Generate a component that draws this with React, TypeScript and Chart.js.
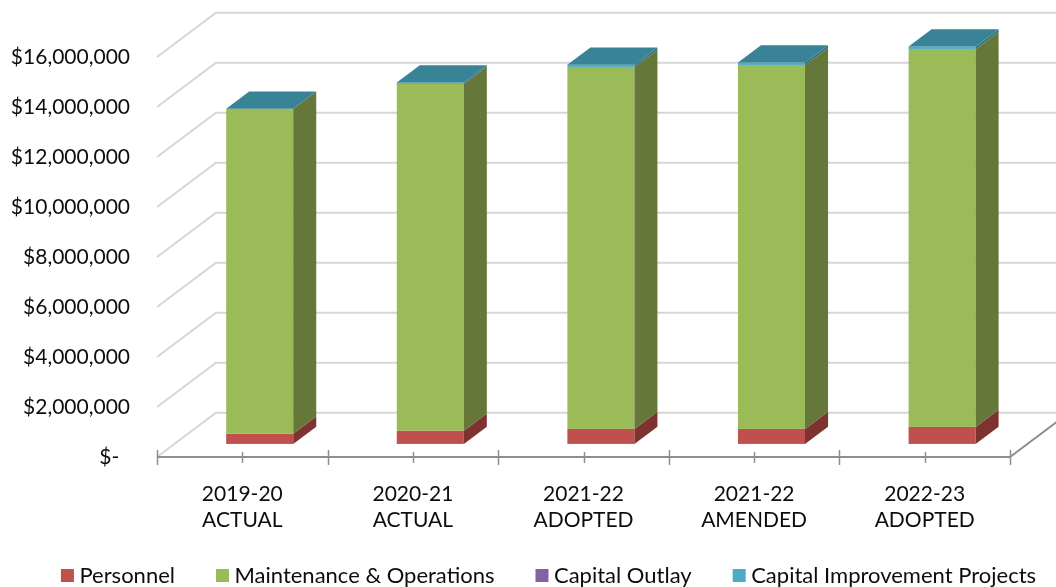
import { useEffect, useRef } from 'react';
import { Chart, registerables } from 'chart.js';

Chart.register(...registerables);

// Fiscal years shown along the category axis (two-line labels)
const fiscalYears: string[][] = [
  ['2019-20', 'ACTUAL'],
  ['2020-21', 'ACTUAL'],
  ['2021-22', 'ADOPTED'],
  ['2021-22', 'AMENDED'],
  ['2022-23', 'ADOPTED'],
];

// Expenditure by category, in dollars
const personnel = [410000, 530000, 600000, 600000, 680000];
const maintenanceOperations = [13000000, 13870000, 14480000, 14560000, 15120000];
const capitalOutlay = [0, 0, 0, 0, 0];
const capitalImprovementProjects = [0, 60000, 90000, 100000, 100000];

// Value axis
const axisMax = 16000000;
const axisStep = 2000000;

const seriesNames = ['Personnel', 'Maintenance & Operations', 'Capital Outlay', 'Capital Improvement Projects'];
const frontColors = ['#C0504D', '#9BBB59', '#8064A2', '#4BACC6'];
const sideColors = ['#7F3331', '#65783A', '#55426C', '#2F7385'];
const topColors = ['#A04340', '#86A24C', '#6C5589', '#388396'];

const FONT = 'Lato, "Open Sans", sans-serif';

// Oblique projection of the chart depth: (dx, dy) from front plane to back wall
const DEPTH_X = 59;
const DEPTH_Y = -44.3;
const BAR_FRONT = 0.295;
const BAR_BACK = 0.685;

const boxPlugin = {
  id: 'boxes3d',
  beforeDatasetsDraw(chart: any) {
    const { ctx, chartArea, scales } = chart;
    const xs = scales.x;
    const ys = scales.y;
    const left = chartArea.left;
    const right = chartArea.right;

    ctx.save();
    // back wall grid with its left-side diagonals
    ctx.strokeStyle = '#D6D6D6';
    ctx.lineWidth = 2;
    for (let v = 0; v <= axisMax; v += axisStep) {
      const yf = ys.getPixelForValue(v);
      ctx.beginPath();
      ctx.moveTo(left, yf);
      ctx.lineTo(left + DEPTH_X, yf + DEPTH_Y);
      ctx.lineTo(right + DEPTH_X, yf + DEPTH_Y);
      ctx.stroke();
    }

    // floor front edge (category axis) and right floor edge
    const y0 = ys.getPixelForValue(0);
    ctx.strokeStyle = '#8E8E8E';
    ctx.lineWidth = 2;
    ctx.beginPath();
    ctx.moveTo(left, y0);
    ctx.lineTo(right, y0);
    ctx.lineTo(right + DEPTH_X, y0 + DEPTH_Y);
    ctx.stroke();

    // tick marks: long at category boundaries, short at category centres
    ctx.lineWidth = 1.5;
    const n = chart.data.labels.length;
    const catW = (right - left) / n;
    for (let k = 0; k <= n; k++) {
      const tx = Math.round(left + k * catW) + 0.5;
      ctx.beginPath();
      ctx.moveTo(tx, y0 - 7);
      ctx.lineTo(tx, y0 + 8);
      ctx.stroke();
    }
    for (let k = 0; k < n; k++) {
      const tx = Math.round(xs.getPixelForValue(k)) + 0.5;
      ctx.beginPath();
      ctx.moveTo(tx, y0 - 5);
      ctx.lineTo(tx, y0 + 6);
      ctx.stroke();
    }

    // stacked boxes
    const fx = DEPTH_X * BAR_FRONT;
    const fy = DEPTH_Y * BAR_FRONT;
    const sdx = DEPTH_X * (BAR_BACK - BAR_FRONT);
    const sdy = DEPTH_Y * (BAR_BACK - BAR_FRONT);
    const dsCount = chart.data.datasets.length;
    for (let j = 0; j < n; j++) {
      let topY = 0;
      let xl = 0;
      let xr = 0;
      for (let i = 0; i < dsCount; i++) {
        const el = chart.getDatasetMeta(i).data[j];
        const p = el.getProps(['x', 'y', 'base', 'width'], true);
        xl = p.x - p.width / 2 + fx;
        xr = p.x + p.width / 2 + fx;
        const yt = Math.min(p.y, p.base) + fy;
        const yb = Math.max(p.y, p.base) + fy;
        topY = yt;
        if (yb - yt < 0.01) continue;
        ctx.fillStyle = frontColors[i];
        ctx.fillRect(xl, yt, xr - xl, yb - yt);
        ctx.fillStyle = sideColors[i];
        ctx.beginPath();
        ctx.moveTo(xr, yt);
        ctx.lineTo(xr + sdx, yt + sdy);
        ctx.lineTo(xr + sdx, yb + sdy);
        ctx.lineTo(xr, yb);
        ctx.closePath();
        ctx.fill();
      }
      // lid of the stack takes the colour of the last series
      ctx.fillStyle = topColors[dsCount - 1];
      ctx.beginPath();
      ctx.moveTo(xl, topY);
      ctx.lineTo(xr, topY);
      ctx.lineTo(xr + sdx, topY + sdy);
      ctx.lineTo(xl + sdx, topY + sdy);
      ctx.closePath();
      ctx.fill();
    }
    ctx.restore();
    return false;
  },
  afterDraw(chart: any) {
    const { ctx } = chart;
    ctx.save();
    ctx.font = `22px ${FONT}`;
    ctx.textBaseline = 'middle';
    ctx.textAlign = 'left';
    const box = 13;
    const textGap = 18.5;
    const itemGap = 41;
    const items = chart.data.datasets.map((d: any) => ({
      label: d.label as string,
      color: d.backgroundColor as string,
      w: ctx.measureText(d.label).width,
    }));
    const total = items.reduce((s: number, it: any) => s + textGap + it.w, 0) + itemGap * (items.length - 1);
    let x = 548.5 - total / 2;
    for (const it of items) {
      ctx.fillStyle = it.color;
      ctx.fillRect(x, 569, box, box);
      ctx.fillStyle = '#0D0D0D';
      ctx.fillText(it.label, x + textGap, 576);
      x += textGap + it.w + itemGap;
    }
    ctx.restore();
  },
};

export default function App() {
  const canvasRef = useRef<HTMLCanvasElement | null>(null);

  useEffect(() => {
    if (!canvasRef.current) return;
    const seriesData = [personnel, maintenanceOperations, capitalOutlay, capitalImprovementProjects];
    const chart = new Chart(canvasRef.current, {
      type: 'bar',
      data: {
        labels: fiscalYears,
        datasets: seriesData.map((d, i) => ({
          label: seriesNames[i],
          data: d,
          backgroundColor: frontColors[i],
          barPercentage: 0.393,
          categoryPercentage: 1,
        })),
      },
      options: {
        responsive: false,
        maintainAspectRatio: false,
        animation: false,
        devicePixelRatio: 1,
        layout: { padding: { top: 57, right: 46, left: 0, bottom: 0 } },
        plugins: {
          legend: { display: false },
          tooltip: { enabled: false },
        },
        scales: {
          x: {
            stacked: true,
            grid: { display: false, drawTicks: false },
            border: { display: false },
            ticks: {
              color: '#0D0D0D',
              font: { family: FONT, size: 21, lineHeight: 26 / 21 },
              padding: 24,
              maxRotation: 0,
              autoSkip: false,
            },
            afterFit: (s: any) => {
              s.height = 130;
            },
          },
          y: {
            stacked: true,
            min: 0,
            max: axisMax,
            grid: { display: false, drawTicks: false },
            border: { display: false },
            ticks: {
              stepSize: axisStep,
              color: '#0D0D0D',
              font: { family: FONT, size: 21 },
              padding: 27,
              callback: (v: any) => (Number(v) === 0 ? '$-  ' : '$' + Number(v).toLocaleString('en-US')),
            },
            afterFit: (s: any) => {
              s.width = 157;
            },
          },
        },
      },
      plugins: [boxPlugin],
    });
    return () => chart.destroy();
  }, []);

  return (
    <div style={{ position: 'fixed', left: 0, top: 0, width: 1056, height: 587, background: '#fff' }}>
      <canvas ref={canvasRef} width={1056} height={587} />
    </div>
  );
}
